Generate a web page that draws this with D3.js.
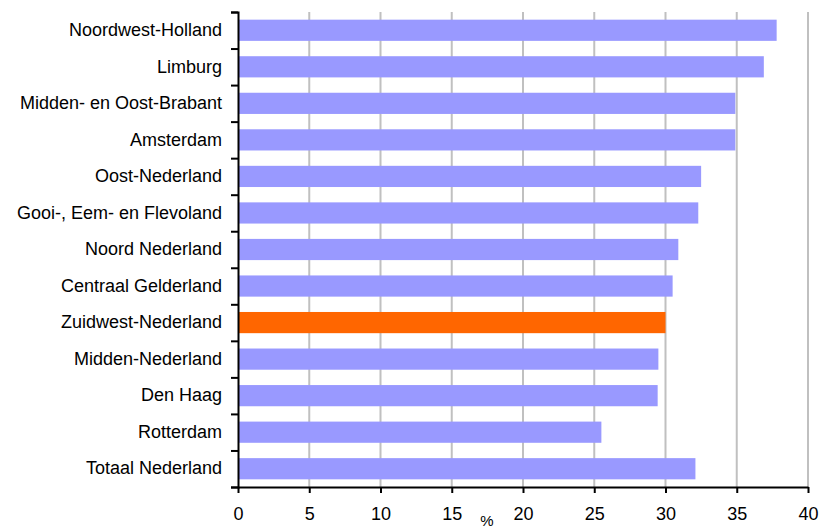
<!DOCTYPE html>
<html>
<head>
<meta charset="utf-8">
<script src="https://cdn.jsdelivr.net/npm/d3@7"></script>
<style>
  body { margin: 0; background: #fff; }
  svg { display: block; font-family: "Liberation Sans", Arial, sans-serif; }
</style>
</head>
<body>
<div id="chart"></div>
<script>
// regions, top to bottom as drawn
var regions = ["Noordwest-Holland", "Limburg", "Midden- en Oost-Brabant", "Amsterdam",
  "Oost-Nederland", "Gooi-, Eem- en Flevoland", "Noord Nederland", "Centraal Gelderland",
  "Zuidwest-Nederland", "Midden-Nederland", "Den Haag", "Rotterdam", "Totaal Nederland"];
var percentages = [37.8, 36.9, 34.9, 34.9, 32.5, 32.3, 30.9, 30.5, 30.0, 29.5, 29.45, 25.5, 32.1];
var highlighted = "Zuidwest-Nederland";
var xTicks = [0, 5, 10, 15, 20, 25, 30, 35, 40];
var xLabel = "%";

var W = 827, H = 528;
var margin = {top: 12, right: 19, bottom: 41, left: 238},
    width = W - margin.left - margin.right,
    height = H - margin.top - margin.bottom;

var svg = d3.select("#chart").append("svg").attr("width", W).attr("height", H);
var g = svg.append("g").attr("transform", "translate(" + margin.left + "," + margin.top + ")");

var x = d3.scaleLinear().domain([0, 40]).range([0, width]);
var y = d3.scaleBand().domain(regions).range([0, height]).paddingInner(0.42).paddingOuter(0.21);
// boundaries between categories, for the tick marks of the category axis
var yEdge = d3.scaleLinear().domain([0, regions.length]).range([0, height]);

// gridlines
g.append("g")
  .selectAll("line")
  .data(xTicks.slice(1))
  .enter().append("line")
    .attr("x1", function(d) { return x(d); })
    .attr("x2", function(d) { return x(d); })
    .attr("y1", 0)
    .attr("y2", height)
    .attr("stroke", "#c0c0c0")
    .attr("stroke-width", 2);

// bars
g.append("g")
  .selectAll("rect")
  .data(regions)
  .enter().append("rect")
    .attr("x", 0)
    .attr("y", function(d) { return y(d); })
    .attr("width", function(d, i) { return x(percentages[i]); })
    .attr("height", y.bandwidth())
    .attr("fill", function(d) { return d == highlighted ? "#ff6600" : "#9999ff"; });

// category axis: tick marks on the boundaries, labels centred on bars
var yAxis = g.append("g")
  .call(d3.axisLeft(yEdge).tickValues(d3.range(regions.length + 1)).tickSize(7).tickFormat(""));
yAxis.select(".domain").attr("stroke", "#000").attr("stroke-width", 2);
yAxis.selectAll(".tick line").attr("stroke", "#000").attr("stroke-width", 2);

var yLabels = g.append("g")
  .call(d3.axisLeft(y).tickSize(0).tickPadding(16));
yLabels.select(".domain").remove();
yLabels.selectAll("text")
  .attr("font-size", 18)
  .attr("font-family", "Liberation Sans, Arial, sans-serif")
  .attr("fill", "#000");

// value axis
var xAxis = g.append("g")
  .attr("transform", "translate(0," + height + ")")
  .call(d3.axisBottom(x).tickValues(xTicks).tickSize(6).tickPadding(14).tickSizeOuter(0));
xAxis.select(".domain").attr("stroke", "#000").attr("stroke-width", 2);
xAxis.selectAll(".tick line").attr("stroke", "#000").attr("stroke-width", 2);
xAxis.selectAll("text")
  .attr("font-size", 18)
  .attr("font-family", "Liberation Sans, Arial, sans-serif")
  .attr("fill", "#000");

svg.append("text")
  .attr("x", 487)
  .attr("y", 526)
  .attr("text-anchor", "middle")
  .attr("font-size", 15)
  .attr("fill", "#000")
  .text(xLabel);
</script>
</body>
</html>
